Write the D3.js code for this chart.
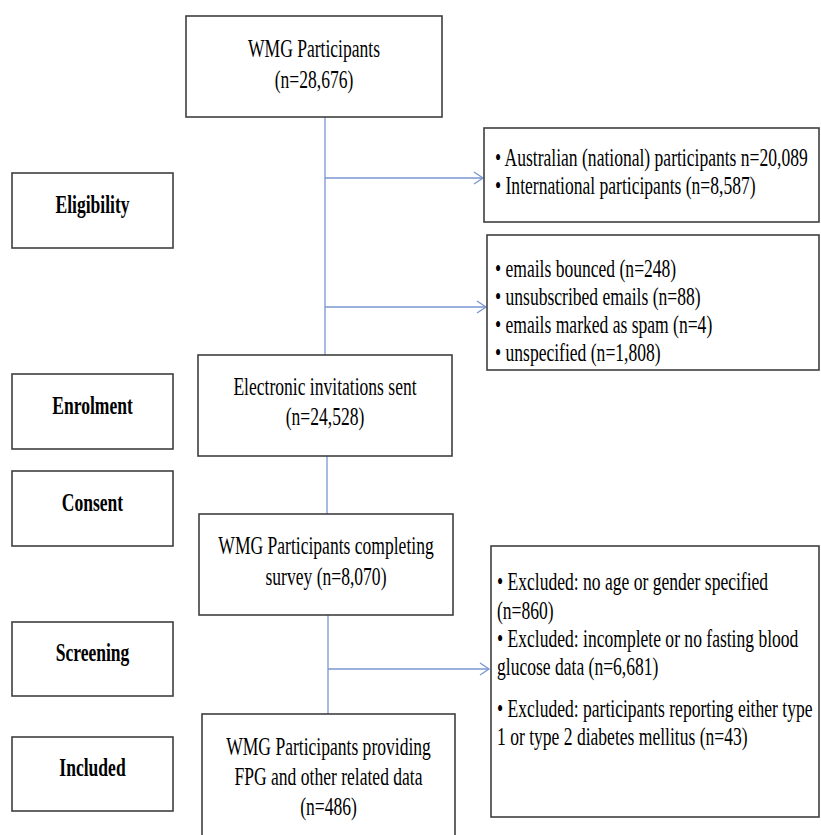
<!DOCTYPE html>
<html>
<head>
<meta charset="utf-8">
<script src="https://cdn.jsdelivr.net/npm/d3@7"></script>
<style>
  html, body { margin: 0; padding: 0; background: #fff; }
  svg { display: block; }
</style>
</head>
<body>
<div id="chart"></div>
<script>
// ---------------- DATA ----------------
const stageLabels = ["Eligibility", "Enrolment", "Consent", "Screening", "Included"];

const flowTexts = [
  ["WMG Participants", "(n=28,676)"],
  ["Electronic invitations sent", "(n=24,528)"],
  ["WMG Participants completing", "survey (n=8,070)"],
  ["WMG Participants providing", "FPG and other related data", "(n=486)"]
];

const exclusionTexts = [
  ["\u2022 Australian (national) participants n=20,089",
   "\u2022 International participants (n=8,587)"],
  ["\u2022 emails bounced (n=248)",
   "\u2022 unsubscribed emails (n=88)",
   "\u2022 emails marked as spam (n=4)",
   "\u2022 unspecified (n=1,808)"],
  ["\u2022 Excluded: no age or gender specified",
   "(n=860)",
   "\u2022 Excluded: incomplete or no fasting blood",
   "glucose data (n=6,681)",
   "",
   "\u2022 Excluded: participants reporting either type",
   "1 or type 2 diabetes mellitus (n=43)"]
];

// ---------------- LAYOUT ----------------
const W = 821, H = 835;
const FONT = "'Liberation Serif', 'Times New Roman', Times, serif";
const FS = 26, SX = 0.675;
const boxStroke = "#3f3f3f", lineColor = "#7896d2", textColor = "#000";

const svg = d3.select("#chart").append("svg")
  .attr("width", W).attr("height", H)
  .attr("viewBox", `0 0 ${W} ${H}`);
svg.append("rect").attr("width", W).attr("height", H).attr("fill", "#fff");

// left stage boxes
const stageBoxes = [
  {y0: 173, y1: 248}, {y0: 374, y1: 449}, {y0: 471, y1: 546},
  {y0: 622, y1: 696}, {y0: 737, y1: 811}
];
const stageX = d3.scaleLinear().domain([0, 1]).range([12, 173]);

// center flow boxes
const flowBoxes = [
  {x0: 186, x1: 442, y0: 16,  y1: 117, base: [57, 88]},
  {x0: 198, x1: 452, y0: 355, y1: 456, base: [395, 425]},
  {x0: 199, x1: 453, y0: 514, y1: 615, base: [554, 585]},
  {x0: 202, x1: 455, y0: 714, y1: 845, base: [755, 785, 815]}
];

// right exclusion boxes
const exclBoxes = [
  {x0: 484, x1: 819, y0: 128, y1: 222, tx: 495, base: [166, 194]},
  {x0: 487, x1: 819, y0: 235, y1: 370, tx: 495, base: [277, 305, 333, 361]},
  {x0: 491, x1: 819, y0: 546, y1: 817, tx: 497, base: [590, 619, 647, 675, 0, 717, 745]}
];

function addText(g, str, x, y, anchor, weight) {
  g.append("text")
    .attr("transform", `translate(${x},${y}) scale(${SX},1)`)
    .attr("text-anchor", anchor)
    .attr("font-family", FONT)
    .attr("font-size", FS)
    .attr("font-weight", weight || "normal")
    .attr("fill", textColor)
    .text(str);
}

function drawBox(x0, y0, x1, y1) {
  svg.append("rect")
    .attr("x", x0).attr("y", y0)
    .attr("width", x1 - x0).attr("height", y1 - y0)
    .attr("fill", "#fff")
    .attr("stroke", boxStroke).attr("stroke-width", 1.6);
}

// connectors
const conn = svg.append("g").attr("stroke", lineColor).attr("stroke-width", 1.3).attr("fill", "none");
const vSegs = [
  {x: 325, y0: 117, y1: 355},
  {x: 327, y0: 456, y1: 514},
  {x: 328, y0: 615, y1: 714}
];
vSegs.forEach(s => conn.append("line").attr("x1", s.x).attr("x2", s.x).attr("y1", s.y0).attr("y2", s.y1));

const arrows = [
  {x0: 325, x1: 483, y: 178},
  {x0: 325, x1: 486, y: 307},
  {x0: 328, x1: 489, y: 669}
];
arrows.forEach(a => {
  conn.append("line").attr("x1", a.x0).attr("x2", a.x1).attr("y1", a.y).attr("y2", a.y);
  conn.append("path").attr("d", `M${a.x1 - 9},${a.y - 6} L${a.x1},${a.y} L${a.x1 - 9},${a.y + 6}`);
});

// stage boxes
stageBoxes.forEach((b, i) => {
  drawBox(stageX(0), b.y0, stageX(1), b.y1);
  const g = svg.append("g");
  addText(g, stageLabels[i], (stageX(0) + stageX(1)) / 2, (b.y0 + b.y1) / 2 + 2, "middle", "bold");
});

// flow boxes
flowBoxes.forEach((b, i) => {
  drawBox(b.x0, b.y0, b.x1, b.y1);
  const g = svg.append("g");
  flowTexts[i].forEach((t, j) => addText(g, t, (b.x0 + b.x1) / 2, b.base[j], "middle"));
});

// exclusion boxes
exclBoxes.forEach((b, i) => {
  drawBox(b.x0, b.y0, b.x1, b.y1);
  const g = svg.append("g");
  exclusionTexts[i].forEach((t, j) => { if (t) addText(g, t, b.tx, b.base[j], "start"); });
});
</script>
</body>
</html>
